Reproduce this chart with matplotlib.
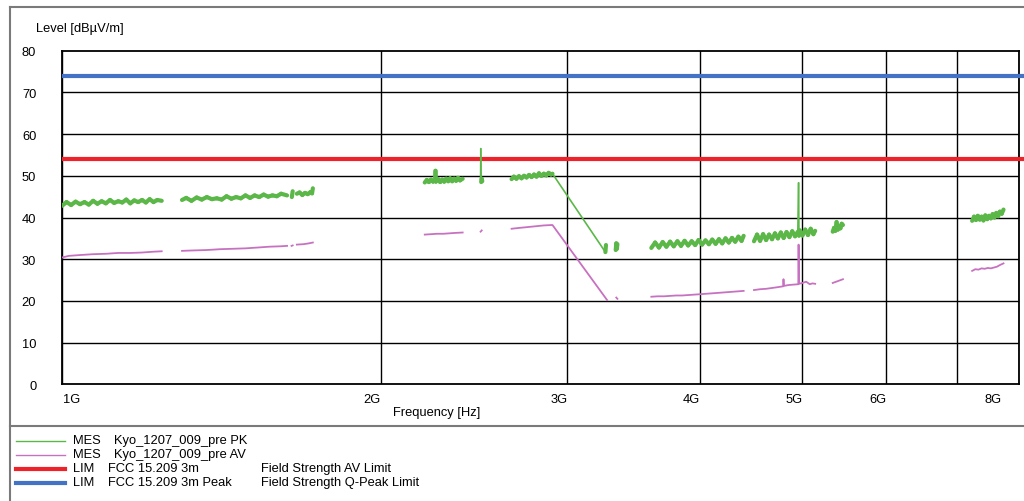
import numpy as np
import matplotlib
matplotlib.use('Agg')
import matplotlib.pyplot as plt
from matplotlib.lines import Line2D
from matplotlib.collections import LineCollection

plt.rcParams['font.family'] = ['Liberation Sans', 'DejaVu Sans']

# peak trace (MHz, dBuV/m), one list per sweep segment
pk_freq = [
    [1000, 1010, 1020, 1030, 1040, 1050, 1060, 1070, 1080, 1090, 1100, 1110, 1120,
     1130, 1140, 1150, 1160, 1170, 1180, 1190, 1200, 1210, 1220, 1230, 1242],
    [1298, 1310, 1325, 1340, 1355, 1370, 1385, 1400, 1415, 1430, 1445, 1460, 1475,
     1490, 1505, 1520, 1535, 1550, 1565, 1580, 1595, 1610, 1631],
    [1648, 1651],
    [1666, 1676, 1686, 1696, 1706, 1716, 1722, 1725],
    [2200, 2210, 2220, 2230, 2240, 2250, 2252, 2254, 2265, 2275, 2285, 2295, 2305,
     2315, 2325, 2335, 2345, 2355, 2365, 2375, 2389],
    [2484, 2485, 2487, 2490, 2493],
    [2657, 2670, 2685, 2700, 2715, 2730, 2745, 2760, 2775, 2790, 2805, 2820, 2835,
     2850, 2865, 2880, 2895, 2904, 3258, 3262],
    [3332, 3336, 3340, 3344],
    [3600, 3630, 3660, 3690, 3720, 3750, 3780, 3810, 3840, 3870, 3900, 3930, 3960,
     3990, 4020, 4050, 4080, 4110, 4140, 4170, 4200, 4230, 4260, 4290, 4320, 4350,
     4380, 4400],
    [4500, 4530, 4560, 4590, 4620, 4650, 4680, 4710, 4740, 4770, 4800, 4830, 4860,
     4890, 4920, 4950, 4958, 4962, 4970, 5000, 5030, 5060, 5090, 5120, 5140],
    [5340, 5355, 5370, 5385, 5400, 5415, 5430, 5445, 5460],
    [7230, 7260, 7290, 7320, 7350, 7380, 7410, 7440, 7470, 7500, 7530, 7560, 7590,
     7620, 7650, 7680, 7710, 7740],
]
pk_level = [
    [42.8, 43.7, 43.0, 43.8, 43.2, 43.7, 43.1, 44.0, 43.3, 43.9, 43.4, 44.2, 43.5,
     43.9, 43.6, 44.3, 43.4, 44.1, 43.7, 44.2, 43.6, 44.4, 43.7, 44.2, 44.0],
    [44.2, 44.7, 44.0, 44.8, 44.3, 44.9, 44.4, 44.6, 44.3, 45.1, 44.5, 44.9, 44.6,
     45.3, 44.7, 45.3, 44.9, 45.5, 45.0, 45.3, 45.1, 45.7, 45.3],
    [44.9, 46.3],
    [45.7, 46.0, 45.4, 45.9, 45.6, 46.1, 45.8, 47.0],
    [48.4, 49.0, 48.5, 49.1, 48.6, 49.0, 51.2, 48.6, 49.2, 48.5, 49.1, 48.6, 49.3,
     48.7, 49.4, 48.7, 49.3, 48.8, 49.5, 48.9, 49.3],
    [48.8, 56.5, 48.5, 49.3, 48.7],
    [49.2, 49.8, 49.3, 49.9, 49.4, 50.0, 49.6, 50.2, 49.7, 50.3, 49.8, 50.6, 50.0,
     50.5, 50.1, 50.7, 50.3, 50.5, 31.7, 33.4],
    [32.2, 33.8, 32.5, 33.6],
    [32.7, 34.0, 32.8, 34.1, 33.0, 34.2, 33.1, 34.3, 33.2, 34.4, 33.3, 34.3, 33.4,
     34.6, 33.5, 34.5, 33.6, 34.7, 33.7, 34.8, 33.8, 35.0, 34.0, 35.1, 34.2, 35.4,
     34.4, 35.6],
    [34.3, 35.9, 34.4, 36.0, 34.6, 35.9, 34.8, 36.2, 35.0, 36.4, 35.1, 36.5, 35.3,
     36.7, 35.5, 36.6, 48.3, 35.6, 36.9, 35.7, 37.1, 35.8, 37.3, 36.0, 36.8],
    [36.6, 37.5, 36.8, 38.9, 37.1, 37.9, 37.4, 38.5, 38.2],
    [39.2, 40.2, 39.4, 40.4, 39.5, 40.2, 39.3, 40.5, 39.6, 40.4, 39.8, 40.8, 40.0,
     41.1, 40.3, 41.4, 40.9, 41.9],
]

# average trace
av_freq = [
    [1000, 1015, 1040, 1070, 1100, 1130, 1160, 1190, 1220, 1242],
    [1298, 1330, 1370, 1410, 1450, 1490, 1530, 1570, 1610, 1631],
    [1647, 1651],
    [1666, 1690, 1710, 1725],
    [2200, 2230, 2260, 2290, 2320, 2350, 2389],
    [2484, 2490],
    [2657, 2700, 2750, 2800, 2850, 2900, 2904, 3270],
    [3336, 3344],
    [3600, 3650, 3700, 3750, 3800, 3850, 3900, 3950, 4000, 4050, 4100, 4150, 4200,
     4250, 4300, 4350, 4400],
    [4500, 4560, 4620, 4680, 4740, 4795, 4798, 4802, 4850, 4900, 4955, 4958, 4962,
     5000, 5040, 5080, 5110, 5140],
    [5340, 5380, 5420, 5460],
    [7230, 7280, 7330, 7380, 7430, 7480, 7530, 7580, 7630, 7680, 7740],
]
av_level = [
    [30.4, 30.8, 31.0, 31.2, 31.3, 31.5, 31.5, 31.6, 31.8, 31.9],
    [32.0, 32.1, 32.2, 32.4, 32.5, 32.6, 32.8, 33.0, 33.1, 33.2],
    [33.2, 33.3],
    [33.5, 33.6, 33.8, 34.0],
    [35.9, 36.0, 36.1, 36.1, 36.2, 36.3, 36.4],
    [36.6, 36.9],
    [37.3, 37.5, 37.7, 37.9, 38.1, 38.2, 38.2, 20.2],
    [20.8, 20.5],
    [21.0, 21.1, 21.1, 21.2, 21.3, 21.3, 21.4, 21.5, 21.6, 21.7, 21.8, 21.9, 22.0,
     22.1, 22.2, 22.3, 22.4],
    [22.6, 22.8, 22.9, 23.1, 23.3, 23.5, 25.2, 23.6, 23.8, 23.9, 24.0, 33.5, 24.1,
     24.3, 24.6, 24.0, 24.2, 24.1],
    [24.3, 24.6, 24.9, 25.2],
    [27.2, 27.6, 27.5, 27.8, 27.7, 27.9, 27.8, 28.0, 28.2, 28.6, 29.0],
]

limit_av = 54
limit_pk = 74

grid_freq = [1000, 2000, 3000, 4000, 5000, 6000, 7000, 8000]
tick_freq = [1000, 2000, 3000, 4000, 5000, 6000, 8000]
tick_labels = ['1G', '2G', '3G', '4G', '5G', '6G', '8G']

green = '#5bb848'
pink = '#c772c0'
red = '#ee2229'
blue = '#4472c4'
fs = 9.3

fig = plt.figure(figsize=(10.24, 5.02), dpi=100)
ax = fig.add_axes([62 / 1024, 1 - 385.3 / 502, 956.7 / 1024, 333.6 / 502])

ax.set_xscale('log')
ax.set_xlim(1000, 8000)
ax.set_ylim(0, 80)

for f in grid_freq:
    ax.axvline(f, color='black', lw=1.0, zorder=1)
for y in range(10, 80, 10):
    ax.axhline(y, color='black', lw=1.0, zorder=1)

ax.hlines([limit_pk], 1000, 8700, color=blue, lw=3, clip_on=False, zorder=3)
ax.hlines([limit_av], 1000, 8700, color=red, lw=3, clip_on=False, zorder=3)

for f, v in zip(av_freq, av_level):
    ax.plot(f, v, color=pink, lw=1.3, zorder=4)

# noisy peak band drawn thick, jumps (spikes, sweep gaps) drawn thin
segs, widths = [], []
for f, v in zip(pk_freq, pk_level):
    for i in range(len(f) - 1):
        segs.append([(f[i], v[i]), (f[i + 1], v[i + 1])])
        widths.append(3.0 if abs(v[i + 1] - v[i]) < 3 else 1.2)
ax.add_collection(LineCollection(segs, colors=green, linewidths=widths,
                                 zorder=5, capstyle='round'))

ax.set_yticks(range(0, 81, 10))
ax.tick_params(axis='y', length=0, pad=18.5, labelsize=fs)
ax.set_xticks([])
ax.set_xticks([], minor=True)
for s in ax.spines.values():
    s.set_linewidth(1.3)

for f, lab in zip(tick_freq, tick_labels):
    if lab == '1G':
        ha, dx = 'left', 1
    elif lab == '8G':
        ha, dx = 'right', -12.5
    else:
        ha, dx = 'right', 0
    ax.annotate(lab, xy=(f, 0), xycoords=('data', 'axes fraction'),
                xytext=(dx, -6), textcoords='offset points',
                ha=ha, va='top', fontsize=fs)

fig.text(437 / 1024, 1 - 413 / 502, 'Frequency [Hz]', ha='center', va='center', fontsize=fs)
fig.text(36 / 1024, 1 - 29 / 502, 'Level [dBµV/m]', ha='left', va='center', fontsize=fs)

# outer frame
frame = '#7a7a7a'
fig.add_artist(Line2D([10 / 1024, 10 / 1024], [0, 1 - 8 / 502], color=frame, lw=1.5))
fig.add_artist(Line2D([10 / 1024, 1], [1 - 8 / 502, 1 - 8 / 502], color=frame, lw=1.5))
fig.add_artist(Line2D([10 / 1024, 1], [1 - 427 / 502, 1 - 427 / 502], color=frame, lw=1.5))

# legend block
rows = [
    (green, 1.0, 'MES', 114, 'Kyo_1207_009_pre PK', ''),
    (pink, 1.0, 'MES', 114, 'Kyo_1207_009_pre AV', ''),
    (red, 3, 'LIM', 107.5, 'FCC 15.209 3m', 'Field Strength AV Limit'),
    (blue, 3, 'LIM', 107.5, 'FCC 15.209 3m Peak', 'Field Strength Q-Peak Limit'),
]
for i, (c, lw, kind, x2, name, desc) in enumerate(rows):
    y = 1 - (441.5 + i * 14) / 502
    fig.add_artist(Line2D([16 / 1024, 65 / 1024], [y, y], color=c, lw=lw))
    fig.text(72.5 / 1024, y, kind, ha='left', va='center', fontsize=fs)
    fig.text(x2 / 1024, y, name, ha='left', va='center', fontsize=fs)
    if desc:
        fig.text(261 / 1024, y, desc, ha='left', va='center', fontsize=fs)

fig.savefig('out.png', dpi=100)
